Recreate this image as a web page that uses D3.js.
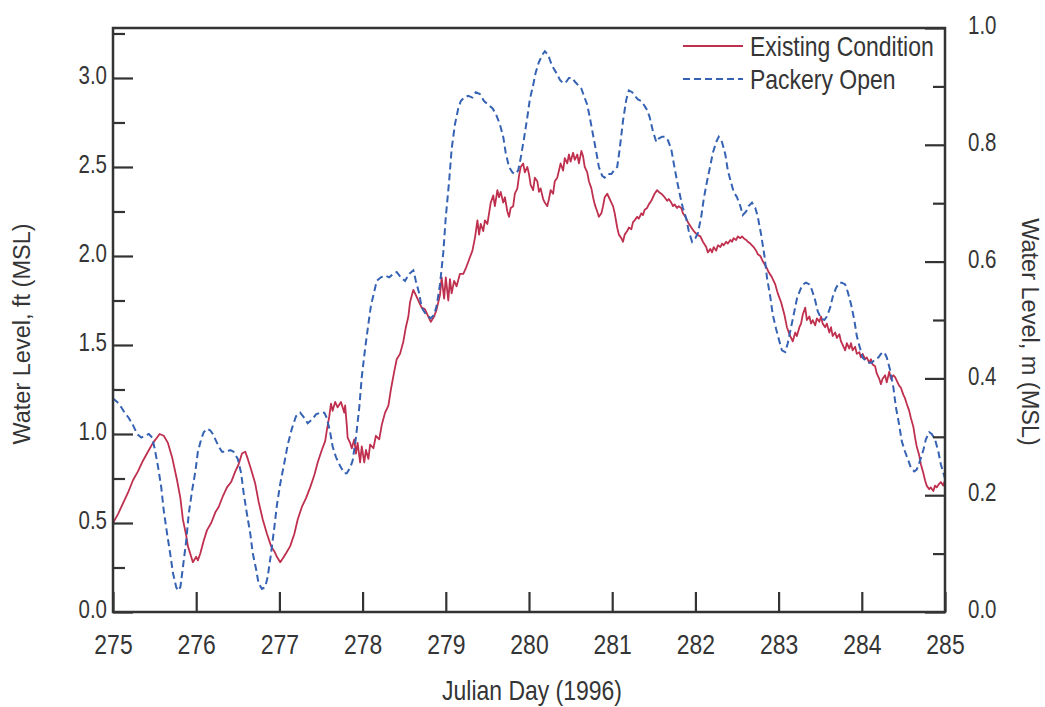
<!DOCTYPE html>
<html>
<head>
<meta charset="utf-8">
<script src="https://cdn.jsdelivr.net/npm/d3@7/dist/d3.min.js"></script>
<style>
html,body{margin:0;padding:0;background:#fff;}
svg{display:block;}
text{font-family:"Liberation Sans",Arial,Helvetica,sans-serif;fill:#353535;}
</style>
</head>
<body>
<svg id="chart" width="1045" height="707"></svg>
<script>
// ---- Data (Julian day, water level in ft MSL) ----
const existingCondition = [
[275.00,0.50],[275.06,0.55],[275.12,0.61],[275.18,0.67],[275.24,0.74],[275.30,0.79],[275.36,0.85],[275.42,0.90],[275.48,0.95],[275.53,0.98],[275.56,1.00],[275.61,0.99],[275.66,0.95],[275.71,0.87],[275.77,0.74],[275.81,0.64],[275.84,0.52],[275.88,0.43],[275.90,0.37],[275.94,0.31],[275.96,0.28],[276.00,0.31],[276.02,0.29],[276.05,0.33],[276.09,0.40],[276.13,0.46],[276.18,0.50],[276.23,0.56],[276.27,0.59],[276.32,0.65],[276.37,0.70],[276.42,0.73],[276.47,0.79],[276.51,0.83],[276.55,0.89],[276.59,0.90],[276.62,0.86],[276.66,0.80],[276.71,0.72],[276.75,0.62],[276.80,0.52],[276.85,0.44],[276.90,0.37],[276.94,0.34],[276.97,0.31],[277.01,0.28],[277.04,0.30],[277.08,0.33],[277.13,0.37],[277.18,0.44],[277.22,0.52],[277.27,0.59],[277.32,0.64],[277.37,0.70],[277.42,0.77],[277.46,0.84],[277.51,0.91],[277.55,0.96],[277.57,1.02],[277.60,1.10],[277.62,1.17],[277.64,1.13],[277.67,1.18],[277.70,1.15],[277.74,1.18],[277.78,1.12],[277.79,1.16],[277.81,1.05],[277.82,0.98],[277.85,0.95],[277.87,0.92],[277.90,0.97],[277.92,0.89],[277.94,0.95],[277.97,0.84],[277.99,0.93],[278.02,0.84],[278.04,0.91],[278.07,0.86],[278.09,0.94],[278.13,0.92],[278.16,0.99],[278.20,0.97],[278.23,1.05],[278.27,1.12],[278.31,1.16],[278.34,1.25],[278.38,1.35],[278.41,1.42],[278.45,1.45],[278.49,1.52],[278.52,1.60],[278.55,1.66],[278.57,1.74],[278.61,1.81],[278.64,1.78],[278.68,1.74],[278.71,1.71],[278.75,1.70],[278.79,1.66],[278.82,1.63],[278.86,1.66],[278.89,1.70],[278.93,1.78],[278.95,1.88],[278.98,1.76],[279.00,1.88],[279.03,1.75],[279.05,1.87],[279.07,1.79],[279.10,1.86],[279.13,1.83],[279.17,1.90],[279.21,1.90],[279.24,1.93],[279.28,1.98],[279.32,2.03],[279.35,2.10],[279.38,2.20],[279.40,2.12],[279.42,2.18],[279.45,2.14],[279.47,2.20],[279.50,2.18],[279.52,2.24],[279.54,2.30],[279.57,2.34],[279.59,2.28],[279.62,2.37],[279.64,2.33],[279.66,2.36],[279.69,2.30],[279.71,2.33],[279.74,2.25],[279.76,2.22],[279.78,2.27],[279.81,2.28],[279.83,2.35],[279.86,2.38],[279.88,2.45],[279.90,2.50],[279.93,2.52],[279.95,2.47],[279.98,2.50],[280.00,2.46],[280.02,2.40],[280.05,2.37],[280.07,2.44],[280.10,2.42],[280.12,2.36],[280.14,2.38],[280.17,2.32],[280.19,2.30],[280.22,2.28],[280.24,2.32],[280.26,2.37],[280.29,2.35],[280.31,2.42],[280.34,2.44],[280.36,2.48],[280.38,2.52],[280.41,2.48],[280.43,2.55],[280.46,2.52],[280.48,2.57],[280.50,2.53],[280.53,2.58],[280.55,2.54],[280.58,2.57],[280.60,2.52],[280.63,2.59],[280.65,2.56],[280.67,2.50],[280.70,2.47],[280.72,2.42],[280.75,2.38],[280.77,2.33],[280.79,2.29],[280.82,2.25],[280.84,2.22],[280.87,2.24],[280.89,2.28],[280.91,2.33],[280.94,2.35],[280.96,2.33],[280.99,2.30],[281.01,2.28],[281.03,2.24],[281.06,2.16],[281.08,2.12],[281.11,2.10],[281.13,2.08],[281.15,2.12],[281.18,2.14],[281.20,2.16],[281.23,2.15],[281.25,2.19],[281.27,2.20],[281.30,2.22],[281.32,2.21],[281.35,2.24],[281.37,2.23],[281.39,2.26],[281.42,2.27],[281.44,2.29],[281.47,2.31],[281.49,2.33],[281.51,2.35],[281.54,2.37],[281.56,2.36],[281.59,2.35],[281.61,2.34],[281.63,2.33],[281.66,2.31],[281.68,2.32],[281.71,2.30],[281.73,2.28],[281.75,2.29],[281.78,2.27],[281.80,2.28],[281.83,2.27],[281.85,2.24],[281.88,2.22],[281.91,2.19],[281.95,2.16],[281.98,2.14],[282.02,2.12],[282.06,2.11],[282.09,2.08],[282.13,2.05],[282.15,2.02],[282.18,2.04],[282.20,2.02],[282.22,2.05],[282.25,2.03],[282.27,2.06],[282.30,2.05],[282.32,2.07],[282.34,2.06],[282.37,2.08],[282.39,2.07],[282.42,2.09],[282.44,2.08],[282.46,2.10],[282.49,2.09],[282.51,2.11],[282.54,2.10],[282.56,2.11],[282.58,2.10],[282.61,2.09],[282.63,2.08],[282.66,2.07],[282.68,2.06],[282.70,2.05],[282.73,2.03],[282.75,2.01],[282.78,2.00],[282.81,1.97],[282.85,1.94],[282.88,1.91],[282.92,1.88],[282.96,1.84],[282.99,1.79],[283.03,1.74],[283.07,1.67],[283.10,1.60],[283.13,1.56],[283.15,1.54],[283.17,1.52],[283.20,1.57],[283.22,1.55],[283.25,1.60],[283.27,1.62],[283.29,1.67],[283.32,1.71],[283.34,1.64],[283.37,1.66],[283.39,1.62],[283.41,1.64],[283.44,1.61],[283.46,1.65],[283.49,1.63],[283.51,1.66],[283.53,1.62],[283.56,1.60],[283.58,1.62],[283.61,1.57],[283.63,1.60],[283.65,1.55],[283.68,1.57],[283.70,1.54],[283.73,1.56],[283.75,1.52],[283.77,1.50],[283.80,1.47],[283.82,1.51],[283.85,1.48],[283.87,1.51],[283.89,1.47],[283.92,1.49],[283.94,1.45],[283.97,1.46],[283.99,1.43],[284.01,1.45],[284.04,1.42],[284.06,1.43],[284.09,1.40],[284.11,1.42],[284.13,1.39],[284.16,1.38],[284.18,1.34],[284.21,1.31],[284.23,1.28],[284.25,1.31],[284.28,1.33],[284.30,1.29],[284.33,1.35],[284.35,1.31],[284.38,1.33],[284.40,1.32],[284.42,1.30],[284.45,1.27],[284.47,1.26],[284.50,1.22],[284.52,1.20],[284.54,1.17],[284.57,1.13],[284.59,1.09],[284.62,1.04],[284.64,0.98],[284.66,0.93],[284.69,0.88],[284.71,0.83],[284.74,0.78],[284.76,0.74],[284.78,0.71],[284.81,0.69],[284.83,0.70],[284.86,0.68],[284.88,0.71],[284.90,0.70],[284.93,0.72],[284.95,0.73],[284.98,0.71],[285.00,0.74]
];

const packeryOpen = [
[275.00,1.20],[275.05,1.18],[275.10,1.15],[275.14,1.12],[275.19,1.09],[275.24,1.05],[275.29,1.00],[275.34,0.98],[275.38,0.99],[275.43,1.00],[275.47,0.98],[275.50,0.92],[275.54,0.82],[275.58,0.70],[275.61,0.57],[275.65,0.44],[275.69,0.32],[275.72,0.22],[275.76,0.14],[275.78,0.12],[275.81,0.14],[275.84,0.25],[275.88,0.40],[275.91,0.55],[275.95,0.68],[275.99,0.79],[276.02,0.90],[276.06,0.97],[276.09,1.01],[276.13,1.03],[276.17,1.02],[276.20,1.00],[276.24,0.96],[276.27,0.93],[276.31,0.90],[276.36,0.90],[276.41,0.91],[276.45,0.90],[276.50,0.86],[276.54,0.78],[276.57,0.67],[276.61,0.55],[276.65,0.44],[276.68,0.33],[276.72,0.24],[276.75,0.16],[276.79,0.13],[276.83,0.14],[276.86,0.20],[276.90,0.33],[276.94,0.48],[276.97,0.60],[277.01,0.72],[277.06,0.84],[277.10,0.94],[277.15,1.03],[277.20,1.10],[277.25,1.12],[277.30,1.09],[277.34,1.06],[277.39,1.08],[277.44,1.11],[277.49,1.12],[277.54,1.12],[277.57,1.09],[277.61,1.01],[277.64,0.93],[277.68,0.87],[277.73,0.82],[277.78,0.78],[277.81,0.78],[277.85,0.81],[277.88,0.85],[277.92,0.98],[277.96,1.15],[277.99,1.32],[278.03,1.48],[278.07,1.62],[278.10,1.72],[278.14,1.80],[278.17,1.86],[278.22,1.88],[278.27,1.89],[278.32,1.88],[278.37,1.90],[278.41,1.91],[278.46,1.88],[278.51,1.86],[278.56,1.90],[278.61,1.92],[278.64,1.86],[278.68,1.79],[278.71,1.71],[278.75,1.68],[278.79,1.66],[278.82,1.65],[278.86,1.67],[278.89,1.72],[278.93,1.84],[278.97,2.02],[279.00,2.22],[279.04,2.42],[279.07,2.60],[279.11,2.74],[279.15,2.83],[279.18,2.87],[279.22,2.89],[279.27,2.90],[279.32,2.89],[279.36,2.92],[279.41,2.91],[279.46,2.87],[279.51,2.85],[279.56,2.83],[279.60,2.80],[279.65,2.74],[279.69,2.67],[279.72,2.58],[279.76,2.50],[279.80,2.47],[279.83,2.46],[279.87,2.48],[279.90,2.55],[279.94,2.66],[279.98,2.78],[280.01,2.88],[280.05,2.96],[280.08,3.03],[280.12,3.09],[280.16,3.13],[280.19,3.15],[280.23,3.13],[280.26,3.09],[280.30,3.05],[280.34,3.02],[280.37,2.99],[280.41,2.97],[280.45,2.98],[280.48,3.00],[280.52,3.00],[280.55,2.98],[280.59,2.96],[280.63,2.94],[280.66,2.90],[280.70,2.85],[280.73,2.78],[280.77,2.68],[280.81,2.58],[280.84,2.50],[280.88,2.45],[280.91,2.44],[280.95,2.46],[280.99,2.46],[281.02,2.48],[281.06,2.50],[281.09,2.60],[281.13,2.76],[281.17,2.88],[281.20,2.93],[281.24,2.92],[281.27,2.90],[281.31,2.88],[281.35,2.87],[281.38,2.85],[281.42,2.82],[281.45,2.78],[281.49,2.70],[281.53,2.64],[281.56,2.66],[281.60,2.67],[281.63,2.67],[281.67,2.65],[281.71,2.60],[281.74,2.52],[281.78,2.42],[281.82,2.33],[281.85,2.27],[281.89,2.21],[281.92,2.14],[281.96,2.08],[282.00,2.10],[282.03,2.13],[282.07,2.22],[282.10,2.32],[282.14,2.42],[282.18,2.51],[282.21,2.58],[282.25,2.64],[282.28,2.67],[282.32,2.64],[282.36,2.57],[282.39,2.48],[282.43,2.41],[282.46,2.36],[282.50,2.33],[282.54,2.28],[282.57,2.23],[282.61,2.25],[282.64,2.28],[282.68,2.30],[282.72,2.27],[282.75,2.22],[282.79,2.12],[282.83,2.00],[282.86,1.88],[282.90,1.77],[282.93,1.67],[282.97,1.59],[283.01,1.52],[283.04,1.47],[283.08,1.46],[283.11,1.51],[283.15,1.60],[283.19,1.69],[283.22,1.76],[283.26,1.81],[283.29,1.84],[283.33,1.85],[283.37,1.84],[283.40,1.81],[283.44,1.75],[283.47,1.69],[283.51,1.65],[283.55,1.64],[283.58,1.66],[283.62,1.71],[283.65,1.77],[283.69,1.82],[283.73,1.85],[283.76,1.85],[283.80,1.84],[283.83,1.80],[283.87,1.73],[283.91,1.64],[283.94,1.55],[283.98,1.48],[284.01,1.43],[284.05,1.41],[284.09,1.40],[284.12,1.40],[284.16,1.42],[284.20,1.43],[284.23,1.45],[284.27,1.46],[284.30,1.43],[284.34,1.36],[284.38,1.26],[284.41,1.15],[284.45,1.05],[284.48,0.96],[284.52,0.90],[284.56,0.85],[284.59,0.81],[284.63,0.79],[284.66,0.80],[284.70,0.85],[284.74,0.91],[284.77,0.97],[284.81,1.01],[284.84,1.00],[284.88,0.97],[284.92,0.90],[284.95,0.83],[285.00,0.75]
];

const dayTicks = [275,276,277,278,279,280,281,282,283,284,285];
const ftTicks = [0.0,0.5,1.0,1.5,2.0,2.5,3.0];
const ftMinorTicks = [0.25,0.75,1.25,1.75,2.25,2.75,3.25];
const mTicks = [0.0,0.2,0.4,0.6,0.8,1.0];
const mMinorTicks = [0.1,0.3,0.5,0.7,0.9];
const seriesNames = ["Existing Condition","Packery Open"];
const seriesColors = ["#bf2f4e","#3562b3"];

// ---- Layout ----
const W = 1045, H = 707;
const L = 113, R = 945, T = 28, B = 612;
const FT_PER_M = 3.2808;
const SX = 0.82; // horizontal text compression

const svg = d3.select("#chart");
svg.append("rect").attr("width",W).attr("height",H).attr("fill","#fff");

const x = d3.scaleLinear().domain([275,285]).range([L,R]);
const yFt = d3.scaleLinear().domain([0,FT_PER_M]).range([B,T]);
const yM = d3.scaleLinear().domain([0,1]).range([B,T]);

svg.append("defs").append("clipPath").attr("id","clip")
  .append("rect").attr("x",L).attr("y",T).attr("width",R-L).attr("height",B-T);

const line = d3.line().x(d=>x(d[0])).y(d=>yFt(d[1]));

const plot = svg.append("g").attr("clip-path","url(#clip)");
plot.append("path").datum(existingCondition)
  .attr("d",line).attr("fill","none").attr("stroke",seriesColors[0])
  .attr("stroke-width",1.8).attr("stroke-linejoin","round");
plot.append("path").datum(packeryOpen)
  .attr("d",line).attr("fill","none").attr("stroke",seriesColors[1])
  .attr("stroke-width",2).attr("stroke-dasharray","7,4");

const axisColor = "#333";
function styleAxis(g){
  g.select(".domain").remove();
  g.selectAll(".tick line").attr("stroke",axisColor).attr("stroke-width",2.2);
}

// left axis
const gl = svg.append("g").attr("transform",`translate(${L},0)`)
  .call(d3.axisLeft(yFt).tickValues(ftTicks).tickSizeInner(-20).tickSizeOuter(0).tickPadding(0).tickFormat(d3.format(".1f")));
styleAxis(gl);
gl.selectAll(".tick text").attr("x",null).attr("dy","0.35em")
  .attr("transform",`translate(-6,-3) scale(${SX},1)`)
  .attr("text-anchor","end").style("font-size","25px").attr("fill","#353535")
  .style("font-family",'"Liberation Sans",Arial,sans-serif');
const glm = svg.append("g").attr("transform",`translate(${L},0)`)
  .call(d3.axisLeft(yFt).tickValues(ftMinorTicks).tickSizeInner(-12).tickSizeOuter(0).tickFormat(""));
styleAxis(glm);

// right axis
const gr = svg.append("g").attr("transform",`translate(${R},0)`)
  .call(d3.axisRight(yM).tickValues(mTicks).tickSizeInner(-20).tickSizeOuter(0).tickPadding(0).tickFormat(d3.format(".1f")));
styleAxis(gr);
gr.selectAll(".tick text").attr("x",null).attr("dy","0.35em")
  .attr("transform",`translate(23,-3) scale(${SX},1)`)
  .attr("text-anchor","start").style("font-size","25px").attr("fill","#353535")
  .style("font-family",'"Liberation Sans",Arial,sans-serif');
const grm = svg.append("g").attr("transform",`translate(${R},0)`)
  .call(d3.axisRight(yM).tickValues(mMinorTicks).tickSizeInner(-12).tickSizeOuter(0).tickFormat(""));
styleAxis(grm);

// bottom axis
const gb = svg.append("g").attr("transform",`translate(0,${B})`)
  .call(d3.axisBottom(x).tickValues(dayTicks).tickSizeInner(-20).tickSizeOuter(0).tickPadding(0).tickFormat(d3.format("d")));
styleAxis(gb);
gb.selectAll(".tick text").attr("y",null).attr("dy","0.36em")
  .attr("transform",`translate(0,31.5) scale(${SX},1)`)
  .attr("text-anchor","middle").style("font-size","28px").attr("fill","#353535")
  .style("font-family",'"Liberation Sans",Arial,sans-serif');

// frame
svg.append("rect").attr("x",L).attr("y",T).attr("width",R-L).attr("height",B-T)
  .attr("fill","none").attr("stroke",axisColor).attr("stroke-width",2.5);

// axis titles
svg.append("g").attr("transform",`translate(${(L+R)/2+3},700) scale(${SX},1)`)
  .append("text").attr("text-anchor","middle").style("font-size","28px").text("Julian Day (1996)");
svg.append("text").attr("transform","translate(30,334) rotate(-90)")
  .attr("text-anchor","middle").style("font-size","23.5px").text("Water Level, ft (MSL)");
svg.append("text").attr("transform","translate(1022,332) rotate(90)")
  .attr("text-anchor","middle").style("font-size","23.5px").text("Water Level, m (MSL)");

// legend
const legY = [46,79];
const leg = svg.append("g");
seriesNames.forEach((name,i)=>{
  leg.append("line").attr("x1",683).attr("x2",743).attr("y1",legY[i]).attr("y2",legY[i])
    .attr("stroke",seriesColors[i]).attr("stroke-width",i===0?1.8:2)
    .attr("stroke-dasharray",i===0?null:"7,4");
  leg.append("g").attr("transform",`translate(750,${legY[i]+10}) scale(${SX},1)`)
    .append("text").style("font-size","28px").text(name);
});
</script>
</body>
</html>
